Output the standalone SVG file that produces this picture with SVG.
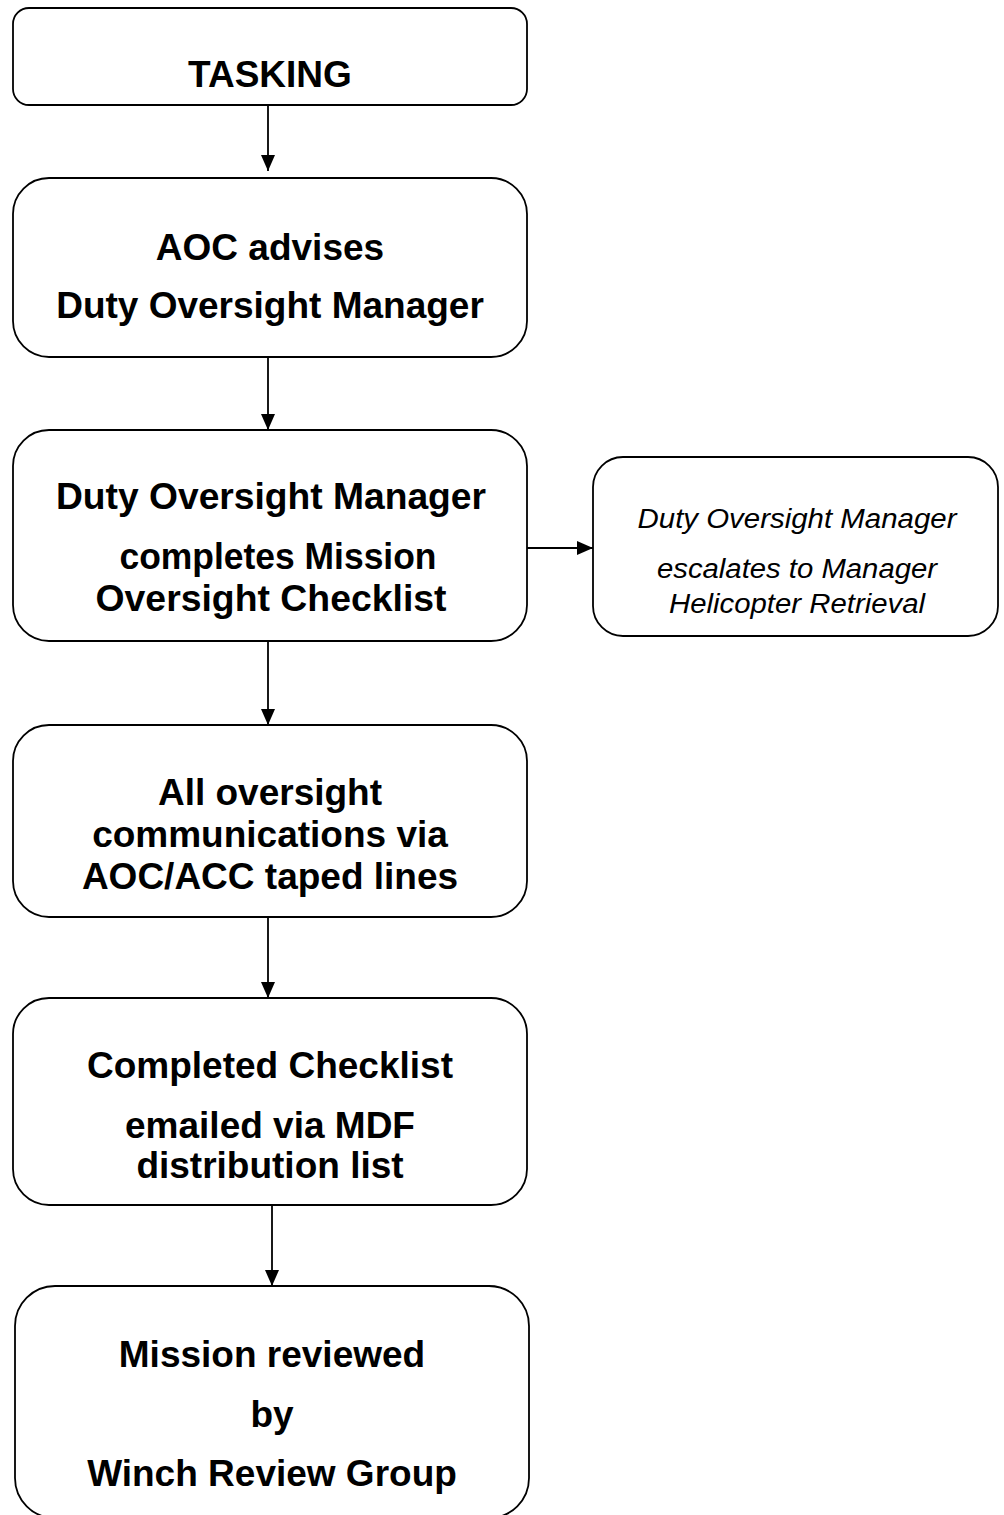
<svg xmlns="http://www.w3.org/2000/svg" width="1004" height="1515" viewBox="0 0 1004 1515">
<style>
.box{fill:#fff;stroke:#000;stroke-width:1.8}
.t{font-family:"Liberation Sans",Arial,sans-serif;font-weight:bold;font-size:37px;text-anchor:middle;fill:#000}
.it{font-family:"Liberation Sans",Arial,sans-serif;font-style:italic;font-size:27px;text-anchor:middle;fill:#000}
.c{stroke:#000;stroke-width:1.8;fill:none;marker-end:url(#ah)}
</style>
<defs>
<marker id="ah" markerUnits="userSpaceOnUse" markerWidth="18" markerHeight="16" refX="16" refY="7" orient="auto">
<path d="M0,0 L16,7 L0,14 Z" fill="#000"/>
</marker>
</defs>
<rect width="1004" height="1515" fill="#fff"/>
<g id="connectors">
<line class="c" x1="268" y1="105" x2="268" y2="171"/>
<line class="c" x1="268" y1="357" x2="268" y2="430"/>
<line class="c" x1="268" y1="641" x2="268" y2="725"/>
<line class="c" x1="268" y1="917" x2="268" y2="998"/>
<line class="c" x1="272" y1="1205" x2="272" y2="1286"/>
<line class="c" x1="527" y1="548" x2="593" y2="548"/>
</g>
<g id="tasking">
<rect class="box" x="13" y="8" width="514" height="97" rx="16"/>
<text class="t" x="270" y="87">TASKING</text>
</g>
<g id="aoc-advises">
<rect class="box" x="13" y="178" width="514" height="179" rx="36"/>
<text class="t" x="270" y="260">AOC advises</text>
<text class="t" x="270" y="318">Duty Oversight Manager</text>
</g>
<g id="completes-checklist">
<rect class="box" x="13" y="430" width="514" height="211" rx="36"/>
<text class="t" x="271" y="509" textLength="430" lengthAdjust="spacingAndGlyphs">Duty Oversight Manager</text>
<text class="t" x="278" y="569" textLength="317" lengthAdjust="spacingAndGlyphs">completes Mission</text>
<text class="t" x="271" y="611" textLength="351" lengthAdjust="spacingAndGlyphs">Oversight Checklist</text>
</g>
<g id="escalates">
<rect class="box" x="593" y="457" width="405" height="179" rx="30"/>
<text class="it" x="797" y="528" textLength="319" lengthAdjust="spacingAndGlyphs">Duty Oversight Manager</text>
<text class="it" x="797" y="578" textLength="280" lengthAdjust="spacingAndGlyphs">escalates to Manager</text>
<text class="it" x="797" y="613" textLength="256" lengthAdjust="spacingAndGlyphs">Helicopter Retrieval</text>
</g>
<g id="communications">
<rect class="box" x="13" y="725" width="514" height="192" rx="36"/>
<text class="t" x="270" y="805">All oversight</text>
<text class="t" x="270" y="847">communications via</text>
<text class="t" x="270" y="889">AOC/ACC taped lines</text>
</g>
<g id="emailed">
<rect class="box" x="13" y="998" width="514" height="207" rx="36"/>
<text class="t" x="270" y="1078">Completed Checklist</text>
<text class="t" x="270" y="1138">emailed via MDF</text>
<text class="t" x="270" y="1178">distribution list</text>
</g>
<g id="reviewed">
<rect class="box" x="15" y="1286" width="514" height="232" rx="40"/>
<text class="t" x="272" y="1367">Mission reviewed</text>
<text class="t" x="272" y="1427">by</text>
<text class="t" x="272" y="1486">Winch Review Group</text>
</g>
</svg>
